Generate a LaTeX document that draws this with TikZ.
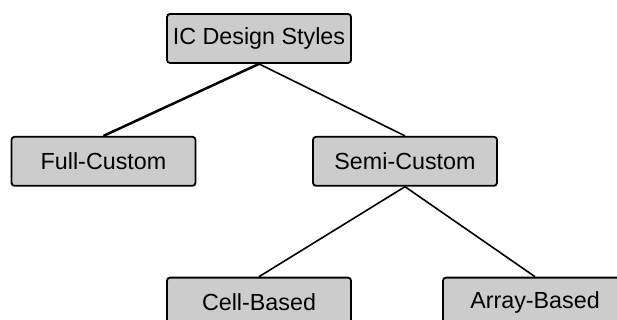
\documentclass[tikz,border=0pt]{standalone}
\usepackage{fontspec}
\setmainfont{Liberation Sans}
\usetikzlibrary{positioning}

\begin{document}
\begin{tikzpicture}[x=1pt,y=1pt,node distance=72pt,
                    style box/.style={draw,fill=black!20,line width=1.8pt,rounded corners=3pt,
                                      minimum width=184pt,minimum height=49pt,
                                      font=\fontsize{23.3}{25}\selectfont},
                    branch/.style={line width=1.6pt}]
  \useasboundingbox (0,0) rectangle (617,-320);

  	\node[style box] (styles) at (259,-38.5)                        {IC Design Styles};
  	\node[style box] (full) [below=of styles,xshift=-155.5pt]       {Full-Custom};
	\node[style box] (semi) [below=of styles,xshift=146pt]          {Semi-Custom};
	\node[style box] (cell) [below=90pt of semi,xshift=-146pt]      {Cell-Based};
	\node[style box] (array) [below=90pt of semi,xshift=130pt]      {Array-Based};

  	\draw[branch,line width=2.5pt] (styles.south) -- (full.north);
	\draw[branch] (styles.south) -- (semi.north);
	\draw[branch] (semi.south) -- (cell.north);
	\draw[branch] (semi.south) -- (array.north);

\end{tikzpicture}
\end{document}
